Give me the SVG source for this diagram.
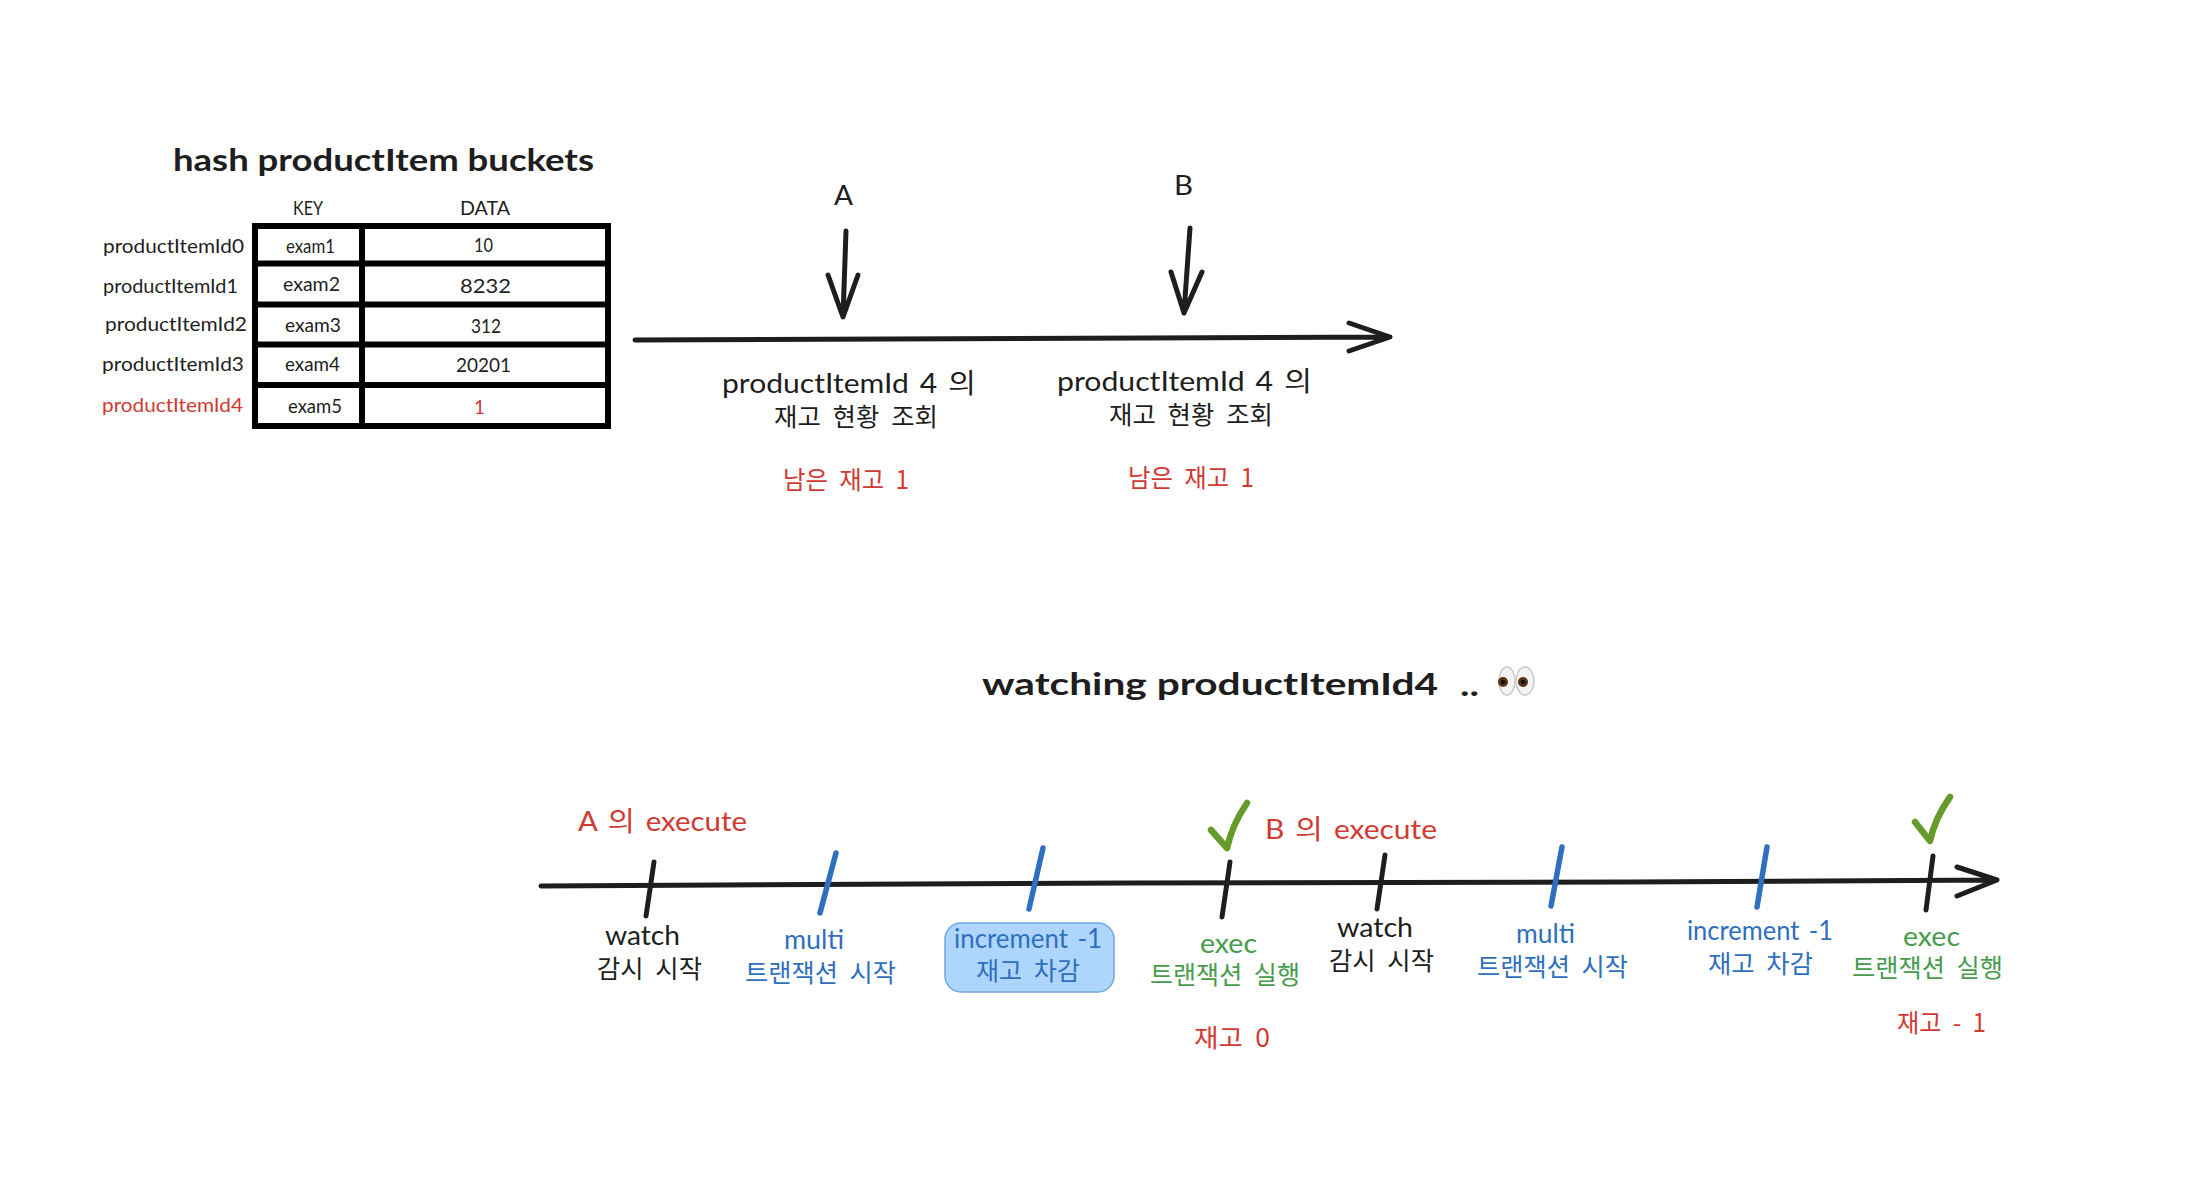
<svg xmlns="http://www.w3.org/2000/svg" width="2204" height="1196" viewBox="0 0 2204 1196">
<style>
text{font-family:"Lato","Noto Sans CJK KR",sans-serif;fill:#1e1e1e;text-anchor:start}
.k{font-family:"Noto Sans CJK KR","Lato",sans-serif;font-size:25px;word-spacing:6px}
.m{font-size:27px;word-spacing:3px}
.s{font-size:19px}
.h{font-size:31px;font-weight:700}
.red{fill:#d13a33}.blue{fill:#2f6fc0}.green{fill:#479c4c}
.ln{fill:none;stroke:#1e1e1e;stroke-width:5;stroke-linecap:round;stroke-linejoin:round}
.bl{stroke:#2f6fc0;stroke-width:5.500}
.ck{fill:none;stroke:#669b2b;stroke-width:6.500;stroke-linecap:round;stroke-linejoin:round}
.t{fill:none;stroke:#000;stroke-width:6;stroke-linecap:square}
</style>
<rect width="2204" height="1196" fill="#fff"/>
<g id="connectors">
<path class="ln" d="M635 340L1390 337M1349 323L1390 337L1349 351"/>
<path class="ln" d="M846 231L843 317M828 275L843 317L858 275"/>
<path class="ln" d="M1190 228L1184 313M1171 272L1184 313L1202 272"/>
<path class="ln" d="M541 886L1130 883L1630 882L1997 880M1957 867L1997 880L1957 896"/>
<path class="ln" d="M654 862L646 916M1230 862L1222 917M1385 855L1377 909M1933 856L1926 910"/>
<path class="ln bl" d="M836 853L820 913M1043 848L1029 909M1562 847L1551 906M1767 847L1757 907"/>
<path class="ck" d="M1211 830L1227 848Q1232 825 1247 803"/>
<path class="ck" d="M1915 822L1930 841Q1935 818 1950 797"/>
</g>
<g id="table">
<text class="h" x="173" y="171" textLength="421" lengthAdjust="spacingAndGlyphs">hash productItem buckets</text>
<text class="s" x="293" y="215" textLength="30" lengthAdjust="spacingAndGlyphs">KEY</text>
<text class="s" x="460" y="215" textLength="50" lengthAdjust="spacingAndGlyphs">DATA</text>
<path class="t" d="M255 226H608V426H255ZM255 263.500H608M255 304.500H608M255 344.500H608M255 385H608M362 226V426"/>
<g id="row0"><text class="s" x="103" y="253" textLength="141" lengthAdjust="spacingAndGlyphs">productItemId0</text><text class="s" x="286" y="253" textLength="49" lengthAdjust="spacingAndGlyphs">exam1</text><text class="s" x="474" y="252" textLength="19" lengthAdjust="spacingAndGlyphs">10</text></g>
<g id="row1"><text class="s" x="103" y="293" textLength="135" lengthAdjust="spacingAndGlyphs">productItemId1</text><text class="s" x="283" y="291" textLength="57" lengthAdjust="spacingAndGlyphs">exam2</text><text class="s" x="460" y="293" textLength="51" lengthAdjust="spacingAndGlyphs">8232</text></g>
<g id="row2"><text class="s" x="105" y="331" textLength="142" lengthAdjust="spacingAndGlyphs">productItemId2</text><text class="s" x="285" y="332" textLength="56" lengthAdjust="spacingAndGlyphs">exam3</text><text class="s" x="471" y="333" textLength="30" lengthAdjust="spacingAndGlyphs">312</text></g>
<g id="row3"><text class="s" x="102" y="371" textLength="142" lengthAdjust="spacingAndGlyphs">productItemId3</text><text class="s" x="285" y="371" textLength="55" lengthAdjust="spacingAndGlyphs">exam4</text><text class="s" x="456" y="372" textLength="55" lengthAdjust="spacingAndGlyphs">20201</text></g>
<g id="row4"><text class="s red" x="102" y="412" textLength="141" lengthAdjust="spacingAndGlyphs">productItemId4</text><text class="s" x="288" y="413" textLength="54" lengthAdjust="spacingAndGlyphs">exam5</text><text class="s red" x="474" y="414">1</text></g>
</g>
<g id="actor-a"><text class="m" x="834" y="205" textLength="19" lengthAdjust="spacingAndGlyphs">A</text></g>
<g id="actor-b"><text class="m" x="1174" y="195" textLength="19" lengthAdjust="spacingAndGlyphs">B</text></g>
<g id="query-a">
<text class="m" x="722" y="393" textLength="254" lengthAdjust="spacingAndGlyphs">productItemId 4 의</text>
<text class="k" x="774" y="426" textLength="164" lengthAdjust="spacingAndGlyphs">재고 현황 조회</text>
<text class="k red" x="783" y="489" textLength="126" lengthAdjust="spacingAndGlyphs">남은 재고 1</text>
</g>
<g id="query-b">
<text class="m" x="1057" y="391" textLength="255" lengthAdjust="spacingAndGlyphs">productItemId 4 의</text>
<text class="k" x="1109" y="424" textLength="164" lengthAdjust="spacingAndGlyphs">재고 현황 조회</text>
<text class="k red" x="1128" y="487" textLength="126" lengthAdjust="spacingAndGlyphs">남은 재고 1</text>
</g>
<g id="watch-title">
<text class="h" x="982" y="695" textLength="456" lengthAdjust="spacingAndGlyphs">watching productItemId4</text>
<text class="h" x="1460" y="696" textLength="19" lengthAdjust="spacingAndGlyphs">..</text>
<ellipse cx="1507" cy="681" rx="8" ry="14" fill="#f4f4f4" stroke="#c9c9c9" stroke-width="1.500"/>
<ellipse cx="1525" cy="681" rx="9" ry="14" fill="#f4f4f4" stroke="#c9c9c9" stroke-width="1.500"/>
<circle cx="1503" cy="682" r="5" fill="#5a3410"/><circle cx="1523" cy="682" r="5" fill="#5a3410"/>
<circle cx="1503" cy="682" r="2.200" fill="#111"/><circle cx="1523" cy="682" r="2.200" fill="#111"/>
</g>
<g id="execute-a"><text class="m red" x="578" y="831" textLength="169" lengthAdjust="spacingAndGlyphs">A 의 execute</text></g>
<g id="execute-b"><text class="m red" x="1265" y="839" textLength="172" lengthAdjust="spacingAndGlyphs">B 의 execute</text></g>
<g id="a-watch"><text class="m" x="605" y="945" textLength="75" lengthAdjust="spacingAndGlyphs">watch</text><text class="k" x="597" y="978" textLength="105" lengthAdjust="spacingAndGlyphs">감시 시작</text></g>
<g id="a-multi"><text class="m blue" x="784" y="949" textLength="60" lengthAdjust="spacingAndGlyphs">multi</text><text class="k blue" x="745" y="982" textLength="151" lengthAdjust="spacingAndGlyphs">트랜잭션 시작</text></g>
<g id="a-increment">
<rect x="945" y="923" width="169" height="69" rx="16" fill="#aed5fb" stroke="#6fa8e0" stroke-width="1.500"/>
<text class="m blue" x="954" y="948" textLength="148" lengthAdjust="spacingAndGlyphs">increment -1</text><text class="k blue" x="976" y="980" textLength="104" lengthAdjust="spacingAndGlyphs">재고 차감</text>
</g>
<g id="a-exec"><text class="m green" x="1200" y="953" textLength="57" lengthAdjust="spacingAndGlyphs">exec</text><text class="k green" x="1150" y="984" textLength="150" lengthAdjust="spacingAndGlyphs">트랜잭션 실행</text><text class="k red" x="1194" y="1047" textLength="76" lengthAdjust="spacingAndGlyphs">재고 0</text></g>
<g id="b-watch"><text class="m" x="1337" y="937" textLength="76" lengthAdjust="spacingAndGlyphs">watch</text><text class="k" x="1329" y="970" textLength="105" lengthAdjust="spacingAndGlyphs">감시 시작</text></g>
<g id="b-multi"><text class="m blue" x="1516" y="943" textLength="59" lengthAdjust="spacingAndGlyphs">multi</text><text class="k blue" x="1477" y="976" textLength="151" lengthAdjust="spacingAndGlyphs">트랜잭션 시작</text></g>
<g id="b-increment"><text class="m blue" x="1687" y="940" textLength="146" lengthAdjust="spacingAndGlyphs">increment -1</text><text class="k blue" x="1708" y="973" textLength="105" lengthAdjust="spacingAndGlyphs">재고 차감</text></g>
<g id="b-exec"><text class="m green" x="1903" y="946" textLength="57" lengthAdjust="spacingAndGlyphs">exec</text><text class="k green" x="1852" y="977" textLength="151" lengthAdjust="spacingAndGlyphs">트랜잭션 실행</text><text class="k red" x="1897" y="1032" textLength="89" lengthAdjust="spacingAndGlyphs">재고 - 1</text></g>
</svg>
